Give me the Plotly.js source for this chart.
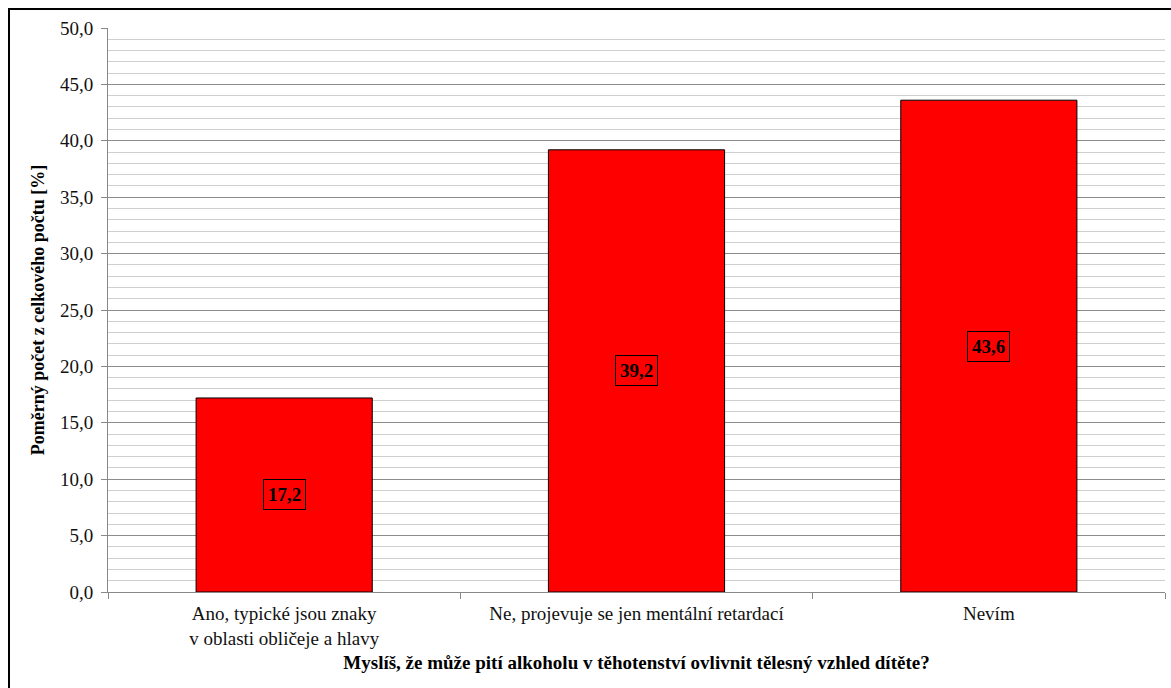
<!DOCTYPE html>
<html>
<head>
<meta charset="utf-8">
<script src="https://cdn.plot.ly/plotly-3.0.1.min.js"></script>
<style>
  html, body { margin: 0; padding: 0; overflow: hidden; background: #fff; }
  #chart { width: 1171px; height: 688px; }
  #frame { position: absolute; left: 8px; top: 8px; width: 1300px; height: 800px;
           border-left: 2px solid #000; border-top: 2px solid #000; pointer-events: none; }
</style>
</head>
<body>
<div id="chart"></div>
<div id="frame"></div>
<script>
// Answers to the survey question and their share of all responses (%)
const categories = [
  "Ano, typické jsou znaky<br>v oblasti obličeje a hlavy",
  "Ne, projevuje se jen mentální retardací",
  "Nevím"
];
const shares = [17.2, 39.2, 43.6];
const valueLabels = ["17,2", "39,2", "43,6"];

const serif = "Liberation Serif, serif";

const trace = {
  type: "bar",
  x: categories,
  y: shares,
  width: 0.5,
  marker: { color: "#ff0000", line: { color: "#000", width: 1 } },
  hoverinfo: "skip"
};

// Boxed value labels placed halfway up each bar
const annotations = categories.map((c, i) => ({
  x: c, y: shares[i] / 2, xref: "x", yref: "y",
  text: "<b>" + valueLabels[i] + "</b>",
  showarrow: false,
  font: { family: serif, size: 19, color: "#000" },
  bordercolor: "#000", borderwidth: 1, borderpad: 4,
  bgcolor: "rgba(0,0,0,0)"
}));

const layout = {
  width: 1171, height: 688,
  margin: { l: 108, r: 6, t: 28, b: 96 },
  paper_bgcolor: "#fff", plot_bgcolor: "#fff",
  separators: ", ",
  showlegend: false,
  bargap: 0.5,
  font: { family: serif, size: 19, color: "#111" },
  xaxis: {
    type: "category",
    showline: true, linecolor: "#888", linewidth: 1,
    ticks: "outside", tickson: "boundaries", ticklen: 6, tickcolor: "#888",
    ticklabelstandoff: 4,
    showgrid: false,
    tickfont: { family: serif, size: 19, color: "#111" },
    title: {
      text: "<b>Myslíš, že může pití alkoholu v těhotenství ovlivnit tělesný vzhled dítěte?</b>",
      font: { family: serif, size: 19, color: "#000" },
      standoff: 8
    }
  },
  yaxis: {
    range: [0, 50], dtick: 5, tickformat: ".1f",
    showline: true, linecolor: "#888", linewidth: 1,
    ticks: "outside", ticklen: 6, tickcolor: "#888",
    ticklabelstandoff: 4,
    showgrid: true, gridcolor: "#8c8c8c", gridwidth: 1,
    zeroline: false,
    minor: { dtick: 1, showgrid: true, gridcolor: "#cfcfcf", gridwidth: 1, ticks: "" },
    tickfont: { family: serif, size: 19, color: "#111" },
    title: {
      text: "<b>Poměrný počet z celkového počtu [%]</b>",
      font: { family: serif, size: 18, color: "#000" },
      standoff: 10
    }
  },
  annotations: annotations
};

Plotly.newPlot("chart", [trace], layout, { displayModeBar: false, staticPlot: true });
</script>
</body>
</html>
